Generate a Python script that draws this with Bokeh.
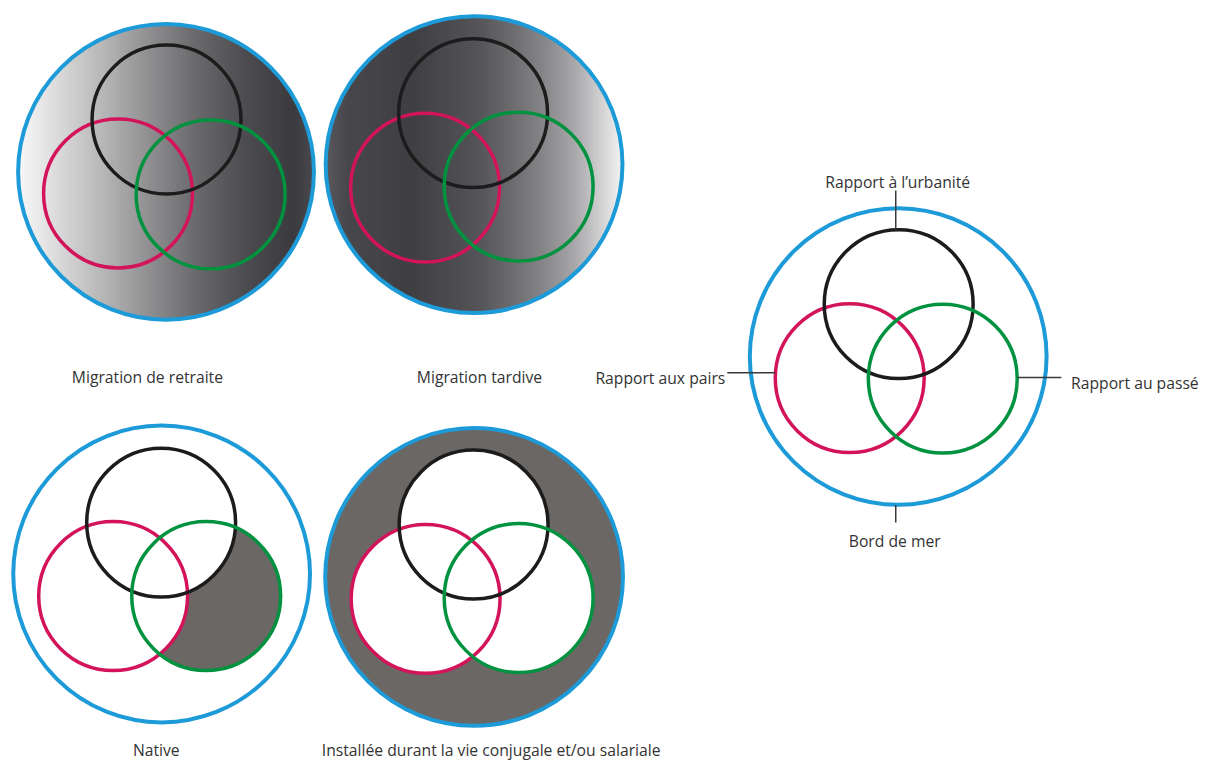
import numpy as np
from bokeh.plotting import figure
from bokeh.models import Range1d
from bokeh.core.properties import value
from bokeh.embed import file_html
from bokeh.resources import INLINE

# ---------------- content ----------------
panel_titles = ["Migration de retraite", "Migration tardive", "Native",
                "Installée durant la vie conjugale et/ou salariale"]
# dimensions of the key diagram: black, red, green rings and the blue outer ring
ring_labels = ["Rapport à l’urbanité", "Rapport aux pairs", "Rapport au passé"]
outer_label = "Bord  de mer"

ring_colors = ["#1c1c1c", "#d3145a", "#00923f"]   # urbanité, pairs, passé
outer_color = "#1d9ad8"
shade_color = "#6a6765"
text_color = "#333333"

# gradient stops (relative horizontal position -> grey)
grad_retraite_pos = [0.0, 0.11, 0.28, 0.44, 0.60, 0.77, 0.93, 1.0]
grad_retraite_col = ["#f8f8f8", "#e0e0e0", "#b8b8b9", "#909092", "#6a6a6d",
                     "#4c4c50", "#3b3b3f", "#4a4a4e"]
grad_tardive_pos = [0.0, 0.07, 0.29, 0.51, 0.62, 0.73, 0.84, 0.93, 1.0]
grad_tardive_col = ["#5a5a5e", "#48484c", "#3f3f43", "#545458", "#6a6a6d",
                    "#858588", "#a8a8aa", "#d2d2d3", "#f4f4f4"]

# ---------------- layout (reference pixels) ----------------
outer_cx = [169, 483.5, 164.5, 483.5, 916.5]
outer_cy = [175, 167.5, 585.5, 588.5, 363.5]
outer_r = [151, 151.5, 151.5, 152, 151.5]
# inner rings: [black, red, green] centres
inner_cx = [[169.5, 120, 214.5], [482.5, 433.5, 529], [164, 115, 210],
            [483, 434, 529], [917, 867, 962]]
inner_cy = [[121.5, 197, 198], [115, 191, 190], [533, 608, 608],
            [535, 611, 610], [310, 385.5, 386]]
inner_r = 76

W, H = 1210, 764
REF_W, REF_H = 1226, 780
s = H / REF_H                      # uniform scale so the 1226x780 layout fits
fs = "%.1fpx" % (16 * s)

p = figure(width=W, height=H, output_backend="svg", toolbar_location=None,
           x_range=Range1d(0, W / s), y_range=Range1d(H / s, 0),
           min_border=0, outline_line_color=None, background_fill_color="white",
           border_fill_color="white")
p.axis.visible = False
p.grid.visible = False


def hex2rgb(h):
    h = h.lstrip("#")
    return np.array([int(h[i:i + 2], 16) for i in (0, 2, 4)], dtype=float)


def gradient(cx, cy, r, pos, cols, n=150):
    rgb = np.array([hex2rgb(c) for c in cols])
    edges = np.linspace(cx - r, cx + r, n + 1)
    step = edges[1] - edges[0]
    xs, ys, colors = [], [], []
    for a, b in zip(edges[:-1], edges[1:]):
        b2 = min(b + step * 0.8, cx + r)
        ha = np.sqrt(max(r * r - (a - cx) ** 2, 0))
        hb = np.sqrt(max(r * r - (b2 - cx) ** 2, 0))
        t = ((a + b) / 2 - (cx - r)) / (2 * r)
        c = [np.interp(t, pos, rgb[:, k]) for k in range(3)]
        colors.append("#%02x%02x%02x" % tuple(int(round(v)) for v in c))
        xs.append([a, b2, b2, a])
        ys.append([cy + ha, cy + hb, cy - hb, cy - ha])
    p.patches(xs, ys, fill_color=colors, line_color=None)


# ---- panel fills ----
gradient(outer_cx[0], outer_cy[0], outer_r[0], grad_retraite_pos, grad_retraite_col)
gradient(outer_cx[1], outer_cy[1], outer_r[1], grad_tardive_pos, grad_tardive_col)

# Native: only the "passé" ring outside the other rings is shaded
p.circle(x=[inner_cx[2][2]], y=[inner_cy[2][2]], radius=inner_r,
         fill_color=shade_color, line_color=None)
p.circle(x=inner_cx[2][:2], y=inner_cy[2][:2], radius=inner_r,
         fill_color="white", line_color=None)

# Installée: everything outside the three rings is shaded
p.circle(x=[outer_cx[3]], y=[outer_cy[3]], radius=outer_r[3],
         fill_color=shade_color, line_color=None)
p.circle(x=inner_cx[3], y=inner_cy[3], radius=inner_r,
         fill_color="white", line_color=None)

# ---- rings ----
p.circle(x=outer_cx, y=outer_cy, radius=outer_r, fill_color=None,
         line_color=outer_color, line_width=4)
for k in (1, 0, 2):
    p.circle(x=[c[k] for c in inner_cx], y=[c[k] for c in inner_cy],
             radius=inner_r, fill_color=None, line_color=ring_colors[k],
             line_width=3.5)

# ---- panel titles ----
font = value("Open Sans")
p.text(x=[150, 489, 159], y=[384, 384, 765], text=panel_titles[:3],
       text_align="center", text_baseline="alphabetic", text_font=font,
       text_font_size=fs, text_color=text_color)
p.text(x=[328], y=[765], text=panel_titles[3:], text_align="left",
       text_baseline="alphabetic", text_font=font, text_font_size=fs,
       text_color=text_color)

# ---- key diagram labels and leader lines ----
kcx, kcy = inner_cx[4], inner_cy[4]
p.segment(x0=[kcx[0] - 3, 742, kcx[2] + inner_r, outer_cx[4] - 2.5],
          y0=[194, 380, 385, outer_cy[4] + outer_r[4]],
          x1=[kcx[0] - 3, kcx[1] - inner_r, 1083, outer_cx[4] - 2.5],
          y1=[kcy[0] - inner_r, 380, 385, 533],
          line_color="#3a3a3a", line_width=1.5)
p.text(x=[916], y=[185], text=[ring_labels[0]], text_align="center",
       text_baseline="alphabetic", text_font=font, text_font_size=fs,
       text_color=text_color)
p.text(x=[740], y=[385], text=[ring_labels[1]], text_align="right",
       text_baseline="alphabetic", text_font=font, text_font_size=fs,
       text_color=text_color)
p.text(x=[1093], y=[390], text=[ring_labels[2]], text_align="left",
       text_baseline="alphabetic", text_font=font, text_font_size=fs,
       text_color=text_color)
p.text(x=[915], y=[552], text=[outer_label], text_align="center",
       text_baseline="alphabetic", text_font=font, text_font_size=fs,
       text_color=text_color)

open("out.html", "w").write(file_html(p, INLINE))
